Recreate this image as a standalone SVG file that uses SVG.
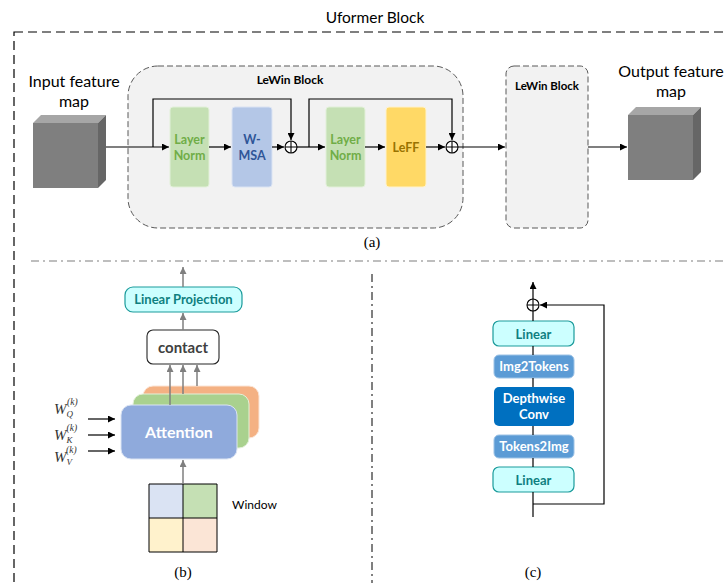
<svg xmlns="http://www.w3.org/2000/svg" width="725" height="583" viewBox="0 0 725 583">
<defs>
<marker id="ab" viewBox="0 0 10 10" refX="10" refY="5" markerWidth="7" markerHeight="7" orient="auto" markerUnits="userSpaceOnUse"><path d="M0,0 L10,5 L0,10 z" fill="#000"/></marker>
<marker id="ag" viewBox="0 0 10 10" refX="10" refY="5" markerWidth="7" markerHeight="7" orient="auto" markerUnits="userSpaceOnUse"><path d="M0,0 L10,5 L0,10 z" fill="#7f7f7f"/></marker>
<style>
.t{font-family:Lato,"Open Sans","Liberation Sans",sans-serif;}
.b{font-weight:bold;}
.cap{font-family:"Liberation Serif",serif;font-size:15px;text-anchor:middle;fill:#000;}
.ln{fill:none;stroke:#000;stroke-width:1.2;}
.lg{fill:none;stroke:#7f7f7f;stroke-width:1.5;}
.box-g{fill:#c5e0b4;stroke:#e2f0d9;stroke-width:1;}
.cyan{fill:#ccffff;stroke:#1a9b9b;stroke-width:1.2;}
.cyt{fill:#0f7f7f;font-size:13px;text-anchor:middle;font-weight:bold;}
.blt{fill:#fff;font-size:13px;text-anchor:middle;font-weight:bold;}
.lnt{font-size:12.5px;text-anchor:middle;font-weight:bold;}
.w{font-family:"Liberation Serif",serif;font-style:italic;font-weight:normal;fill:#333;}
</style>
</defs>

<!-- frames -->
<g id="frames">
<rect x="14" y="32" width="760" height="600" fill="none" stroke="#000" stroke-width="1.2" stroke-dasharray="9,5"/>
<line x1="31" y1="261" x2="725" y2="261" stroke="#7f7f7f" stroke-width="1.2" stroke-dasharray="8,4,2,4"/>
<line x1="372" y1="274" x2="372" y2="583" stroke="#000" stroke-width="1" stroke-dasharray="8,4,2,4"/>
<text class="t" x="375" y="23" font-size="15.5" text-anchor="middle" fill="#000">Uformer Block</text>
<text class="cap" x="372" y="247">(a)</text>
<text class="cap" x="183" y="577">(b)</text>
<text class="cap" x="533" y="577">(c)</text>
</g>

<!-- (a) -->
<g id="lewin1">
<rect x="128" y="66" width="335" height="162" rx="30" fill="#f2f2f2" stroke="#595959" stroke-width="1" stroke-dasharray="6,3"/>
<text class="t b" x="290" y="84" font-size="12" text-anchor="middle" fill="#000">LeWin Block</text>
</g>
<g id="lewin2">
<rect x="506" y="66" width="82" height="162" rx="8" fill="#f2f2f2" stroke="#595959" stroke-width="1" stroke-dasharray="6,3"/>
<text class="t b" x="547" y="90" font-size="11.5" text-anchor="middle" fill="#000">LeWin Block</text>
</g>
<g id="input">
<text class="t" x="74" y="87" font-size="16" text-anchor="middle" fill="#000">Input feature</text>
<text class="t" x="74" y="107" font-size="16" text-anchor="middle" fill="#000">map</text>
<polygon points="33,123 41,115 106,115 98,123" fill="#a6a6a6"/>
<polygon points="98,123 106,115 106,180 98,188" fill="#666"/>
<rect x="33" y="123" width="65" height="65" fill="#7f7f7f"/>
</g>
<g id="output">
<text class="t" x="671" y="77" font-size="16" text-anchor="middle" fill="#000">Output feature</text>
<text class="t" x="671" y="97" font-size="16" text-anchor="middle" fill="#000">map</text>
<polygon points="628,115 636,107 701,107 693,115" fill="#a6a6a6"/>
<polygon points="693,115 701,107 701,172 693,180" fill="#666"/>
<rect x="628" y="115" width="65" height="65" fill="#7f7f7f"/>
</g>
<g id="ln1">
<rect x="170" y="107" width="39" height="80" rx="3" class="box-g"/>
<text class="t lnt" x="189.5" y="144" fill="#70ad47">Layer</text>
<text class="t lnt" x="189.5" y="160" fill="#70ad47">Norm</text>
</g>
<g id="wmsa">
<rect x="232" y="107" width="40" height="80" rx="3" fill="#b4c7e7" stroke="#dae3f3" stroke-width="1"/>
<text class="t lnt" x="252" y="144" fill="#2f5597">W-</text>
<text class="t lnt" x="252" y="160" fill="#2f5597">MSA</text>
</g>
<g id="ln2">
<rect x="326" y="107" width="39" height="80" rx="3" class="box-g"/>
<text class="t lnt" x="345.5" y="144" fill="#70ad47">Layer</text>
<text class="t lnt" x="345.5" y="160" fill="#70ad47">Norm</text>
</g>
<g id="leff">
<rect x="386" y="107" width="40" height="80" rx="3" fill="#ffd966" stroke="#fff2cc" stroke-width="1"/>
<text class="t lnt" x="406" y="152" fill="#997300">LeFF</text>
</g>
<g id="add1">
<circle cx="291" cy="147" r="6" fill="#fff" stroke="#000" stroke-width="1.1"/>
<path d="M285,147 H297 M291,141 V153" stroke="#000" stroke-width="1.1"/>
</g>
<g id="add2">
<circle cx="452" cy="147" r="6" fill="#fff" stroke="#000" stroke-width="1.1"/>
<path d="M446,147 H458 M452,141 V153" stroke="#000" stroke-width="1.1"/>
</g>

<!-- (b) -->
<g id="linproj">
<rect x="125" y="287" width="117" height="25" rx="8" class="cyan"/>
<text class="t cyt" x="183.5" y="304" font-size="12.5">Linear Projection</text>
</g>
<g id="contact">
<rect x="147" y="330" width="72" height="34" rx="6" fill="#fff" stroke="#262626" stroke-width="1.1"/>
<text class="t b" x="183" y="353" font-size="15" text-anchor="middle" fill="#404040">contact</text>
</g>
<g id="attention">
<rect x="143" y="386" width="116" height="52" rx="10" fill="#f4b183" stroke="#fbe5d6" stroke-width="1"/>
<rect x="133" y="394" width="116" height="54" rx="10" fill="#a9d18e" stroke="#e2f0d9" stroke-width="1"/>
<rect x="121" y="405" width="116" height="54" rx="10" fill="#8faadc" stroke="#dae3f3" stroke-width="1"/>
<text class="t b" x="179" y="438" font-size="16" text-anchor="middle" fill="#fff">Attention</text>
</g>
<g id="wlabels">
<text class="w" x="54" y="414" font-size="15">W<tspan font-size="9" dy="3">Q</tspan><tspan font-size="9.5" dx="-6" dy="-12">(k)</tspan></text>
<text class="w" x="54" y="440" font-size="15">W<tspan font-size="9" dy="3">K</tspan><tspan font-size="9.5" dx="-6" dy="-12">(k)</tspan></text>
<text class="w" x="54" y="462" font-size="15">W<tspan font-size="9" dy="3">V</tspan><tspan font-size="9.5" dx="-6" dy="-12">(k)</tspan></text>
</g>
<g id="window">
<rect x="149" y="484" width="34" height="34" fill="#dae3f3"/>
<rect x="183" y="484" width="34" height="34" fill="#c5e0b4"/>
<rect x="149" y="518" width="34" height="34" fill="#fff2cc"/>
<rect x="183" y="518" width="34" height="34" fill="#fbe5d6"/>
<path d="M149,484 H217 V552 H149 Z M183,484 V552 M149,518 H217" fill="none" stroke="#000" stroke-width="1"/>
<text class="t" x="232" y="509" font-size="12" fill="#000">Window</text>
</g>

<!-- (c) -->
<g id="c-linear1">
<rect x="493" y="321" width="81" height="25" rx="6" class="cyan"/>
<text class="t cyt" x="533.5" y="338.5">Linear</text>
</g>
<g id="c-img2tokens">
<rect x="494" y="355" width="80" height="23" rx="5" fill="#5b9bd5" stroke="#9dc3e6" stroke-width="1"/>
<text class="t blt" x="534" y="371">Img2Tokens</text>
</g>
<g id="c-dwconv">
<rect x="494" y="387" width="80" height="39" rx="5" fill="#0070c0"/>
<text class="t blt" x="534" y="403" font-size="12.5">Depthwise</text>
<text class="t blt" x="534" y="419" font-size="12.5">Conv</text>
</g>
<g id="c-tokens2img">
<rect x="494" y="435" width="80" height="23" rx="5" fill="#5b9bd5" stroke="#9dc3e6" stroke-width="1"/>
<text class="t blt" x="534" y="451">Tokens2Img</text>
</g>
<g id="c-linear2">
<rect x="493" y="467" width="81" height="25" rx="6" class="cyan"/>
<text class="t cyt" x="533.5" y="484.5">Linear</text>
</g>
<g id="c-add">
<circle cx="533" cy="305" r="6" fill="#fff" stroke="#000" stroke-width="1.1"/>
<path d="M527,305 H539 M533,299 V311" stroke="#000" stroke-width="1.1"/>
</g>

<!-- connectors -->
<g id="connectors">
<line class="ln" x1="106" y1="147" x2="169" y2="147" marker-end="url(#ab)"/>
<polyline class="ln" points="153,147 153,99 291,99 291,140" marker-end="url(#ab)"/>
<line class="ln" x1="209" y1="147" x2="231" y2="147" marker-end="url(#ab)"/>
<line class="ln" x1="272" y1="147" x2="284" y2="147" marker-end="url(#ab)"/>
<line class="ln" x1="297" y1="147" x2="325" y2="147" marker-end="url(#ab)"/>
<polyline class="ln" points="309,147 309,99 452,99 452,140" marker-end="url(#ab)"/>
<line class="ln" x1="365" y1="147" x2="385" y2="147" marker-end="url(#ab)"/>
<line class="ln" x1="426" y1="147" x2="445" y2="147" marker-end="url(#ab)"/>
<line class="ln" x1="458" y1="147" x2="505" y2="147" marker-end="url(#ab)"/>
<line class="ln" x1="588" y1="147" x2="627" y2="147" marker-end="url(#ab)"/>

<line class="lg" x1="183" y1="287" x2="183" y2="267" marker-end="url(#ag)"/>
<line class="lg" x1="183" y1="330" x2="183" y2="313" marker-end="url(#ag)"/>
<line class="lg" x1="170" y1="405" x2="170" y2="365" marker-end="url(#ag)"/>
<line class="lg" x1="183" y1="394" x2="183" y2="365" marker-end="url(#ag)"/>
<line class="lg" x1="197" y1="386" x2="197" y2="365" marker-end="url(#ag)"/>
<line class="lg" x1="183" y1="484" x2="183" y2="460" marker-end="url(#ag)"/>
<line class="ln" x1="88" y1="419" x2="115" y2="419" marker-end="url(#ab)"/>
<line class="ln" x1="88" y1="435" x2="115" y2="435" marker-end="url(#ab)"/>
<line class="ln" x1="88" y1="451" x2="115" y2="451" marker-end="url(#ab)"/>

<line class="ln" x1="533" y1="517" x2="533" y2="492"/>
<line class="ln" x1="533" y1="467" x2="533" y2="458"/>
<line class="ln" x1="533" y1="435" x2="533" y2="426"/>
<line class="ln" x1="533" y1="387" x2="533" y2="378"/>
<line class="ln" x1="533" y1="355" x2="533" y2="346"/>
<line class="ln" x1="533" y1="321" x2="533" y2="311"/>
<line class="ln" x1="533" y1="299" x2="533" y2="282" marker-end="url(#ab)"/>
<polyline class="ln" points="533,504 604,504 604,305 540,305" marker-end="url(#ab)"/>
</g>
</svg>
